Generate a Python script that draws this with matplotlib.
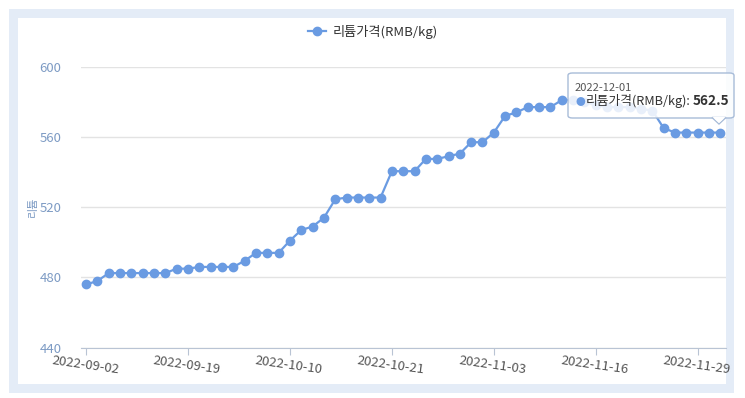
import matplotlib
matplotlib.use("Agg")
import matplotlib.pyplot as plt
from matplotlib.patches import Rectangle, FancyBboxPatch, Polygon

plt.rcParams['font.family'] = ['Noto Sans CJK KR', 'DejaVu Sans']

# 리튬 가격 (RMB/kg), 거래일 기준
prices = [476, 478, 482.5, 482.5, 482.5, 482.5, 482.5, 482.5, 485, 485,
          486, 486, 486, 486, 489.5, 494, 494, 494, 501, 507,
          509, 514, 524.5, 525.5, 525.5, 525.5, 525.5, 540.5, 540.5, 540.5,
          547.5, 547.5, 549, 550.5, 557, 557, 562.5, 572, 574, 577,
          577, 577, 581, 581, 580, 578, 577, 577, 577, 576,
          575, 565, 562.5, 562.5, 562.5, 562.5, 562.5]
tick_labels = ["2022-09-02", "2022-09-19", "2022-10-10", "2022-10-21",
               "2022-11-03", "2022-11-16", "2022-11-29"]
y_ticks = [440, 480, 520, 560, 600]
series_name = "리튬가격(RMB/kg)"
last_date = "2022-12-01"

LINE = "#6a9be2"
W, H = 745, 398

fig = plt.figure(figsize=(W / 100, H / 100), dpi=100)
fig.patch.set_facecolor("white")

def fx(px):
    return px / W

def fy(py):
    return 1 - py / H

# 바깥 테두리 / 안쪽 흰 패널
fig.patches.append(Rectangle((fx(9), fy(393)), fx(734 - 9), (393 - 9) / H,
                             transform=fig.transFigure, facecolor="#e4ecf7",
                             edgecolor="none", zorder=-2))
fig.patches.append(Rectangle((fx(18), fy(384)), fx(726 - 18), (384 - 18) / H,
                             transform=fig.transFigure, facecolor="white",
                             edgecolor="none", zorder=-1))

ax = fig.add_axes([fx(81), fy(347.7), fx(726 - 81), (347.7 - 66.7) / H])
ax.set_facecolor("none")
ax.set_zorder(1)

x = list(range(len(prices)))
ax.plot(x, prices, color=LINE, lw=1.6, marker="o", ms=6, mec=LINE, mfc=LINE,
        label=series_name, zorder=3, clip_on=False)

ax.set_ylim(440, 600)
ax.set_xlim(-0.45, len(prices) - 0.5)
ax.set_yticks(y_ticks)
ax.grid(axis="y", color="#e3e3e3", lw=1)
ax.set_axisbelow(True)
for s in ["top", "right", "left"]:
    ax.spines[s].set_visible(False)
ax.spines["bottom"].set_color("#b9c4d4")
ax.tick_params(axis="y", length=0, pad=14, labelcolor="#7d9bc4", labelsize=9.5)

tick_pos = list(range(0, len(prices), 9))[:len(tick_labels)]
ax.set_xticks(tick_pos)
ax.set_xticklabels(tick_labels, rotation=-8, ha="center", rotation_mode="anchor",
                   color="#555555", fontsize=9.5)
ax.tick_params(axis="x", length=5, color="#b9c4d4", pad=3)

ax.set_ylabel("리튬", color="#7d9bc4", fontsize=8, labelpad=1)

fig.legend(loc="center", bbox_to_anchor=(fx(373), fy(32)), frameon=False,
           fontsize=9.5, handlelength=1.4, handletextpad=0.5,
           labelcolor="#333333")

# 툴팁
tip = FancyBboxPatch((fx(568), fy(118)), fx(734 - 568), (118 - 73) / H,
                     boxstyle="round,pad=0,rounding_size=0.006",
                     transform=fig.transFigure, facecolor=(1, 1, 1, 0.85),
                     edgecolor="#a8bcd8", lw=1, zorder=10)
fig.patches.append(tip)
fig.patches.append(Polygon([(fx(712), fy(117.5)), (fx(726), fy(117.5)),
                            (fx(719), fy(124))], closed=True,
                           transform=fig.transFigure, facecolor="white",
                           edgecolor="#a8bcd8", lw=1, zorder=11))
fig.patches.append(Polygon([(fx(712.5), fy(117)), (fx(725.5), fy(117)),
                            (fx(719), fy(123))], closed=True,
                           transform=fig.transFigure, facecolor="white",
                           edgecolor="none", zorder=12))
fig.text(fx(575), fy(88), last_date, fontsize=8, color="#555555",
         va="center", ha="left", zorder=13)
fig.text(fx(575), fy(101.5), "●", fontsize=7, color=LINE, va="center",
         ha="left", zorder=13)
fig.text(fx(586), fy(101), series_name + ":", fontsize=9.2, color="#333333",
         va="center", ha="left", zorder=13)
fig.text(fx(693), fy(101), f"{prices[-1]}", fontsize=9.8, color="#333333",
         fontweight="bold", va="center", ha="left", zorder=13)

fig.savefig("out.png", dpi=100, facecolor="white")
